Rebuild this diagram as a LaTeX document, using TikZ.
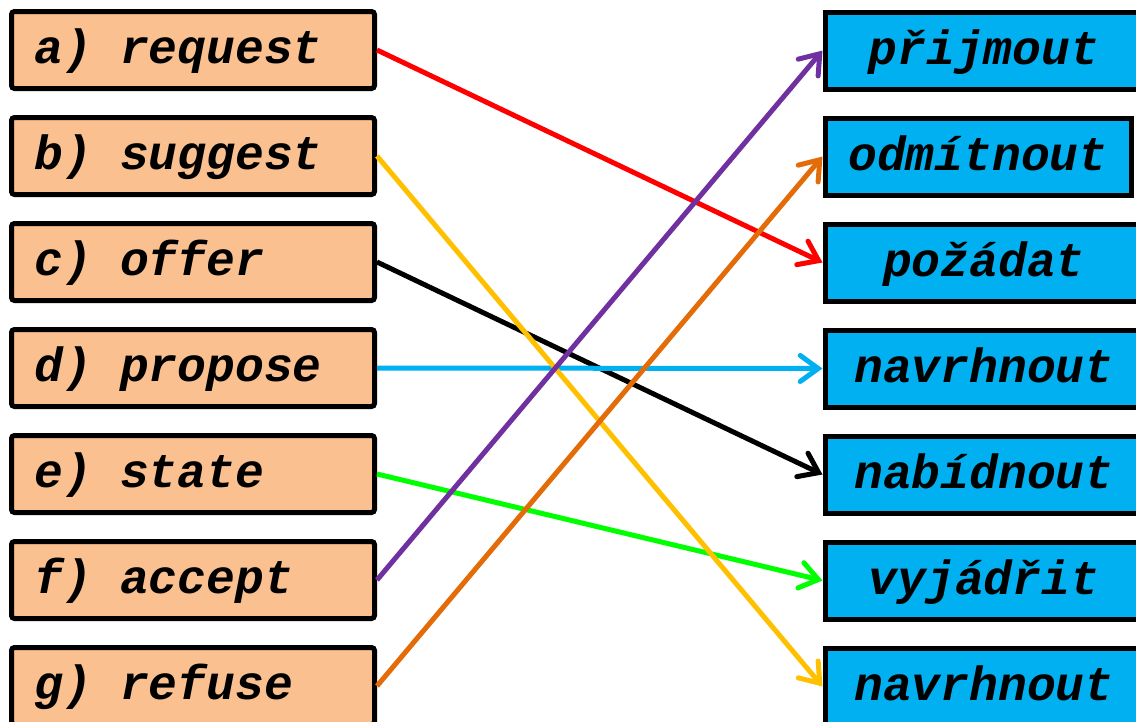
\documentclass[tikz,border=0pt]{standalone}
\usepackage{fontspec}
\setmonofont{Liberation Mono}
\usepackage{tikz}
\usetikzlibrary{arrows.meta,positioning}
\definecolor{peach}{HTML}{FAC090}
\definecolor{sky}{HTML}{00B0F0}
\definecolor{plum}{HTML}{7030A0}
\definecolor{rust}{HTML}{E36C09}
\definecolor{gold}{HTML}{FFC000}
\tikzset{
  box/.style={draw, line width=5pt, minimum height=77pt, text height=27pt, text depth=0pt, inner ysep=0pt,
    font=\fontsize{48}{50}\selectfont\ttfamily\bfseries\itshape},
  en/.style={box, fill=peach, rounded corners=3pt, minimum width=363pt, text width=317pt, align=left, inner xsep=23pt},
  cs/.style={box, fill=sky, minimum width=318pt, inner xsep=0pt, anchor=west},
  arrow/.style={line width=5pt, -{Straight Barb[length=18pt,width=26pt,line cap=round]}}
}
\begin{document}
\begin{tikzpicture}[x=1pt,y=1pt]
  \useasboundingbox (0,0) rectangle (1136,-721);
  % English verbs
  \foreach \k/\w [count=\i from 0] in {a/request,b/suggest,c/offer,d/propose,e/state,f/accept,g/refuse}
    \node[en] (\k) at (193,-50-106*\i) {\k)\hspace{12pt} \w};
  % Czech verbs
  \node[cs] (prijmout) at (822.5,-50.5) {přijmout};
  \node[cs, minimum width=306pt] (odmitnout) at (822.5,-156.5) {odmítnout};
  \node[cs] (pozadat) at (822.5,-262.5) {požádat};
  \node[cs] (navrhnout) at (822.5,-368.5) {navrhnout};
  \node[cs] (nabidnout) at (822.5,-474.5) {nabídnout};
  \node[cs] (vyjadrit) at (822.5,-580.5) {vyjádřit};
  \node[cs] (navrhnoutb) at (822.5,-686.5) {navrhnout};
  % Matches
  \draw[arrow, black] (c.east) -- (nabidnout.west);
  \draw[arrow, sky] (d.east) -- (navrhnout.west);
  \draw[arrow, red] (a.east) -- (pozadat.west);
  \draw[arrow, green] (e.east) -- (vyjadrit.west);
  \draw[arrow, gold] (b.east) -- (navrhnoutb.west);
  \draw[arrow, plum] (f.east) -- (prijmout.west);
  \draw[arrow, rust] (g.east) -- (odmitnout.west);
\end{tikzpicture}
\end{document}
